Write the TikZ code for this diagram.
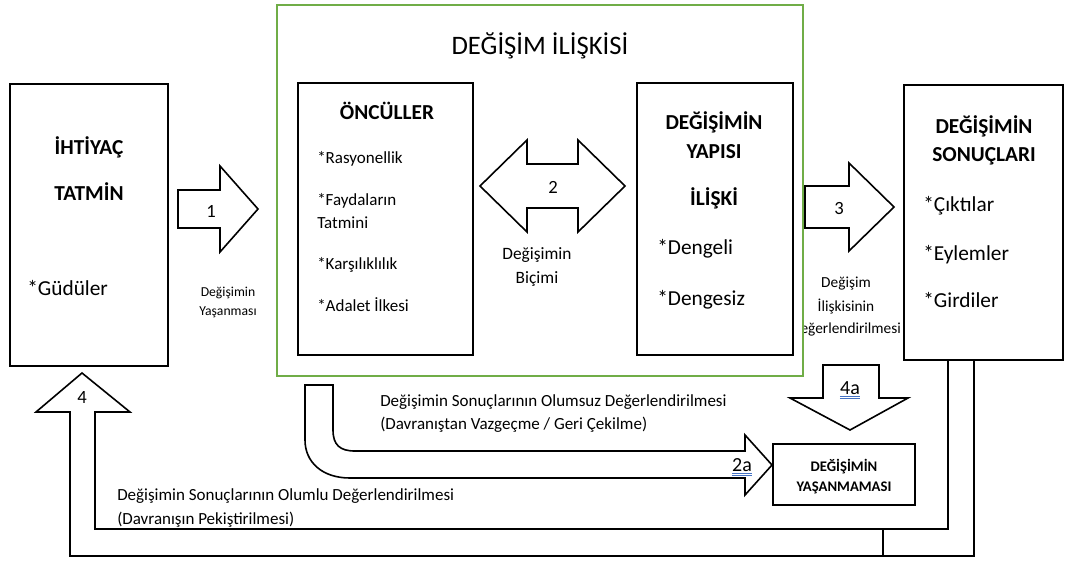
\documentclass[tikz,border=0pt]{standalone}
\usepackage{fontspec}
\setmainfont{Carlito}
\usepackage{xcolor}
\usepackage{tikz}
\usetikzlibrary{positioning,calc}
\definecolor{framegreen}{RGB}{112,173,71}
\definecolor{spellblue}{RGB}{68,114,196}

\begin{document}
\begin{tikzpicture}[x=0.75pt,y=-0.75pt,
    kutu/.style={draw,line width=1.4pt,inner sep=0pt},
    blok/.style={draw,line width=1.2pt,line join=miter},
    baslik/.style={font=\fontsize{16}{20}\selectfont\bfseries,anchor=base,inner sep=0pt},
    madde/.style={font=\fontsize{12.75}{16}\selectfont,anchor=base west,inner sep=0pt},
    buyuk/.style={font=\fontsize{16}{20}\selectfont,anchor=base west,inner sep=0pt},
    aciklama/.style={font=\fontsize{12.75}{16}\selectfont,anchor=base west,inner sep=0pt},
    kucuk/.style={font=\fontsize{10.25}{12}\selectfont,anchor=base,inner sep=0pt},
    numara/.style={font=\fontsize{14}{16}\selectfont,anchor=base,inner sep=0pt}]

  \useasboundingbox (0,0) rectangle (1066,561);

  % label hidden partly behind the frame
  \node[font=\fontsize{11.5}{14}\selectfont,anchor=base,inner sep=0pt] (deger3) at (846,333) {Değerlendirilmesi};

  % exchange relation frame
  \node[draw=framegreen,fill=white,line width=1.5pt,inner sep=0pt,
        minimum width=394.5pt,minimum height=278.25pt] (iliski) at (540,190.5) {};
  \node[font=\fontsize{20}{24}\selectfont,anchor=base,inner sep=0pt] (iliskibaslik) at (540,54) {DEĞİŞİM İLİŞKİSİ};

  % boxes
  \node[kutu,minimum width=118.5pt,minimum height=211.5pt] (ihtiyac) at (89,225) {};
  \node[kutu,minimum width=131.25pt,minimum height=204pt] (onculler) at (385.5,219) {};
  \node[kutu,minimum width=117pt,minimum height=204pt] (yapi) at (715,219) {};
  \node[kutu,minimum width=119.25pt,minimum height=206.25pt] (sonuc) at (983.5,222.5) {};
  \node[kutu,minimum width=106.5pt,minimum height=45.75pt] (yasanmama) at (844,474.5) {};

  % box texts
  \node[baslik] (ihtiyac1) at (89,154) {İHTİYAÇ};
  \node[baslik] (ihtiyac2) at (89,200) {TATMİN};
  \node[buyuk] (gudu) at (27,295) {*Güdüler};

  \node[baslik] (oncul1) at (387,119) {ÖNCÜLLER};
  \node[madde] (rasyo) at (317,163) {*Rasyonellik};
  \node[madde] (fayda) at (317,205) {*Faydaların};
  \node[madde] (tatmin) at (317,228) {Tatmini};
  \node[madde] (karsi) at (317,269) {*Karşılıklılık};
  \node[madde] (adalet) at (317,311) {*Adalet İlkesi};

  \node[baslik] (yapi1) at (714,129) {DEĞİŞİMİN};
  \node[baslik] (yapi2) at (714,158) {YAPISI};
  \node[baslik] (yapi3) at (714,205) {İLİŞKİ};
  \node[buyuk] (dengeli) at (657,254) {*Dengeli};
  \node[buyuk] (dengesiz) at (657,305) {*Dengesiz};

  \node[baslik] (sonuc1) at (984,133) {DEĞİŞİMİN};
  \node[baslik] (sonuc2) at (984,161) {SONUÇLARI};
  \node[buyuk] (cikti) at (923,211) {*Çıktılar};
  \node[buyuk] (eylem) at (923,260) {*Eylemler};
  \node[buyuk] (girdi) at (923,307) {*Girdiler};

  \node[font=\fontsize{11}{13}\selectfont\bfseries,anchor=base,inner sep=0pt] (yasanma1) at (844,471) {DEĞİŞİMİN};
  \node[font=\fontsize{11}{13}\selectfont\bfseries,anchor=base,inner sep=0pt] (yasanma2) at (844,491) {YAŞANMAMASI};

  % block arrows
  \draw[blok] (178,190) -- (220,190) -- (220,166) -- (258,209) -- (220,252) -- (220,228) -- (178,228) -- cycle;
  \node[numara] (n1) at (211,217) {1};

  \draw[blok] (480,186) -- (527,140) -- (527,164) -- (578,164) -- (578,140) -- (625,186)
    -- (578,232) -- (578,208) -- (527,208) -- (527,232) -- cycle;
  \node[numara] (n2) at (553,193) {2};

  \draw[blok] (805,186) -- (849,186) -- (849,163) -- (894,207) -- (849,251) -- (849,228) -- (805,228) -- cycle;
  \node[numara] (n3) at (839,214) {3};

  \coordinate (geri1) at (948,360);
  \coordinate (geri2) at (974,360);
  \draw[blok] (geri1) -- (948,529) -- (95,529) -- (95,412) -- (130,412) -- (82,373) -- (36,412)
    -- (70,412) -- (70,556) -- (974,556) -- (geri2);
  \draw[blok] (883,529) -- (883,556);
  \node[numara] (n4) at (82,403) {4};

  \draw[blok] (823,365) -- (879,365) -- (879,398) -- (908,398) -- (850,430) -- (790,398) -- (823,398) -- cycle;
  \node[numara,font=\fontsize{15}{17}\selectfont] (n4a) at (850,394) {4a};

  \draw[blok] (305,385) -- (333,385) -- (333,430) .. controls (333,445) and (340,451) .. (355,451)
    -- (745,451) -- (745,435) -- (772,465) -- (745,495) -- (745,478) -- (350,478)
    .. controls (322,478) and (305,462) .. (305,440) -- cycle;
  \node[numara,font=\fontsize{15}{17}\selectfont] (n2a) at (742,471) {2a};

  % spelling marks
  \foreach \n in {n4a,n2a} {
    \draw[spellblue,line width=0.5pt] ([yshift=-2pt]\n.base west) -- ([yshift=-2pt]\n.base east);
    \draw[spellblue,line width=0.5pt] ([yshift=-3.4pt]\n.base west) -- ([yshift=-3.4pt]\n.base east);
  }

  % arrow labels
  \node[kucuk] (yasanma) at (228,296) {Değişimin};
  \node[kucuk] (yasanmab) at (228,315) {Yaşanması};
  \node[font=\fontsize{13}{16}\selectfont,anchor=base,inner sep=0pt] (bicim1) at (537,259) {Değişimin};
  \node[font=\fontsize{13}{16}\selectfont,anchor=base,inner sep=0pt] (bicim2) at (537,283) {Biçimi};
  \node[font=\fontsize{11.5}{14}\selectfont,anchor=base,inner sep=0pt] (deger1) at (846,287) {Değişim};
  \node[font=\fontsize{11.5}{14}\selectfont,anchor=base,inner sep=0pt] (deger2) at (846,311) {İlişkisinin};

  \node[aciklama] (olumsuz1) at (380,406) {Değişimin Sonuçlarının Olumsuz Değerlendirilmesi};
  \node[aciklama] (olumsuz2) at (380,429) {(Davranıştan Vazgeçme / Geri Çekilme)};
  \node[aciklama] (olumlu1) at (117,500) {Değişimin Sonuçlarının Olumlu Değerlendirilmesi};
  \node[aciklama] (olumlu2) at (117,524) {(Davranışın Pekiştirilmesi)};
\end{tikzpicture}
\end{document}
